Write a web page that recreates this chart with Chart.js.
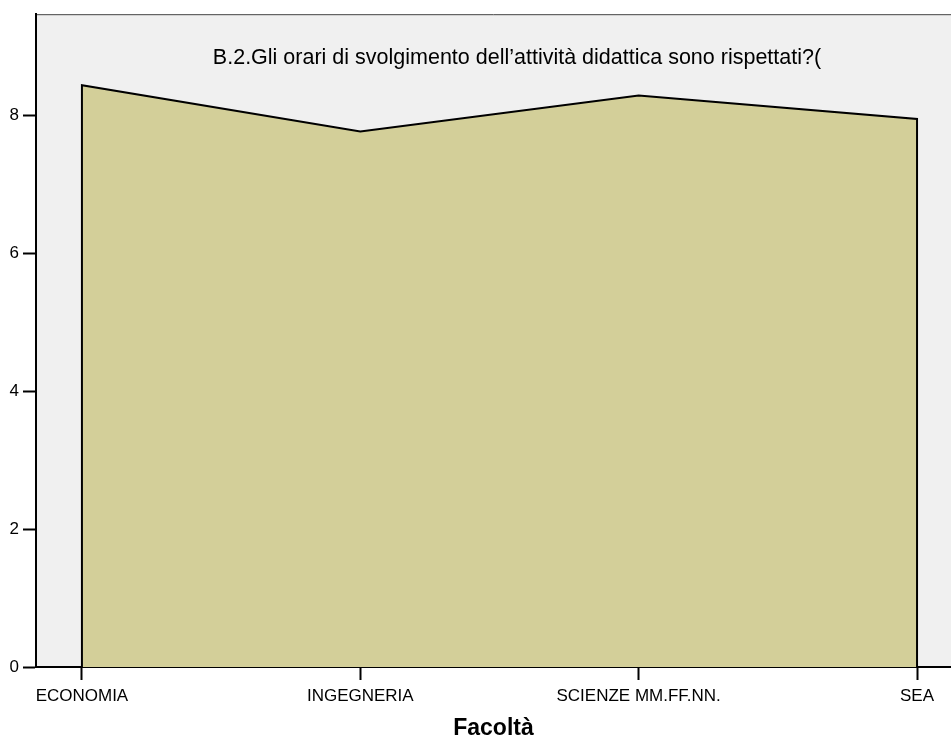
<!DOCTYPE html>
<html>
<head>
<meta charset="utf-8">
<script src="https://cdn.jsdelivr.net/npm/chart.js@4/dist/chart.umd.min.js"></script>
<style>
  body { margin:0; background:#fff; }
  #wrap { width:951px; height:743px; }
</style>
</head>
<body>
<div id="wrap"><canvas id="chart" width="951" height="743"></canvas></div>
<script>
// Facoltà and mean score for question B.2
const facolta = ["ECONOMIA", "INGEGNERIA", "SCIENZE MM.FF.NN.", "SEA"];
const valori = [8.44, 7.77, 8.29, 7.95];
const yTicks = [0, 2, 4, 6, 8];
const titolo = "B.2.Gli orari di svolgimento dell\u2019attivit\u00e0 didattica sono rispettati?(";
const FONT = '"Liberation Sans", Arial, sans-serif';

// closed polygon: baseline -> values -> baseline
const punti = [{x:0, y:0}].concat(valori.map((v,i)=>({x:i, y:v})), [{x:valori.length-1, y:0}]);

const sfondo = {
  id: "sfondo",
  beforeDraw(chart) {
    const {ctx, chartArea:a} = chart;
    ctx.save();
    ctx.fillStyle = "#f0f0f0";
    ctx.fillRect(a.left, a.top, a.right - a.left, a.bottom - a.top);
    ctx.strokeStyle = "#444";
    ctx.lineWidth = 1;
    ctx.beginPath();
    ctx.moveTo(a.left, a.top + 0.5);
    ctx.lineTo(a.right, a.top + 0.5);
    ctx.stroke();
    ctx.restore();
  },
  afterDatasetsDraw(chart) {
    const {ctx} = chart;
    ctx.save();
    ctx.fillStyle = "#000";
    ctx.font = "21.5px " + FONT;
    ctx.textAlign = "center";
    ctx.textBaseline = "alphabetic";
    ctx.fillText(titolo, 517, 64);
    ctx.restore();
  }
};

new Chart(document.getElementById("chart").getContext("2d"), {
  type: "line",
  data: {
    datasets: [{
      data: punti,
      fill: "origin",
      backgroundColor: "#d3cf99",
      borderColor: "#000",
      borderWidth: 2,
      pointRadius: 0,
      tension: 0
    }]
  },
  options: {
    responsive: false,
    animation: false,
    layout: { padding: 0 },
    plugins: { legend: { display: false }, title: { display: false }, tooltip: { enabled: false } },
    scales: {
      x: {
        type: "linear",
        min: -0.165,
        max: 3.122,
        afterBuildTicks: s => { s.ticks = facolta.map((c,i)=>({value:i})); },
        afterFit: s => { s.height = 76; },
        ticks: {
          callback: v => facolta[v],
          color: "#000",
          font: { size: 17, family: FONT },
          padding: 6,
          maxRotation: 0,
          autoSkip: false
        },
        grid: { drawOnChartArea: false, drawTicks: true, tickLength: 13, tickColor: "#000", tickWidth: 2 },
        border: { display: true, color: "#000", width: 2 },
        title: { display: true, text: "Facoltà", color: "#000", font: { size: 23, weight: "bold", family: FONT }, padding: { top: 10, bottom: 1 } }
      },
      y: {
        min: 0,
        max: 9.47,
        afterBuildTicks: s => { s.ticks = yTicks.map(v=>({value:v})); },
        afterFit: s => { s.width = 36; },
        ticks: {
          color: "#000",
          font: { size: 17, family: FONT },
          padding: 4
        },
        grid: { drawOnChartArea: false, drawTicks: true, tickLength: 13, tickColor: "#000", tickWidth: 2 },
        border: { display: true, color: "#000", width: 2 }
      }
    }
  },
  plugins: [sfondo]
});
</script>
</body>
</html>
